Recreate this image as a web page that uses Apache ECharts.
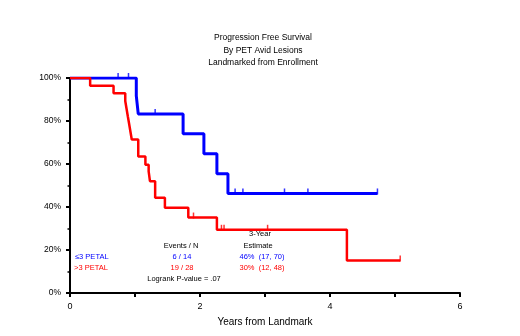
<!DOCTYPE html>
<html><head><meta charset="utf-8">
<script src="https://cdn.jsdelivr.net/npm/echarts@6/dist/echarts.min.js"></script>
<style>html,body{margin:0;padding:0;background:#fff}#c{width:520px;height:336px}</style>
</head><body><div id="c"></div>
<script>
var titleLines = ["Progression Free Survival", "By PET Avid Lesions", "Landmarked from Enrollment"];
var xAxisName = "Years from Landmark";
var groupNames = ["\u22643 PETAL", ">3 PETAL"];
var eventsN = ["6 / 14", "19 / 28"];
var estimates = ["46%  (17, 70)", "30%  (12, 48)"];
var logrank = "Logrank P-value = .07";

// Blue group: step times and survival (%)
var blueTimes = [0, 1.02, 1.05, 1.74, 2.06, 2.26, 2.43, 4.73];
var blueSurv  = [100, 91.7, 83.3, 74.1, 64.8, 55.5, 46.3, 46.3];
var blueCensT = [0.74, 0.90, 1.31, 2.54, 2.66, 3.30, 3.66, 4.73];
var blueCensS = [100, 100, 83.3, 46.3, 46.3, 46.3, 46.3, 46.3];

// Red group
var redTimes = [0, 0.31, 0.67, 0.85, 0.87, 0.89, 0.91, 0.93, 0.95, 1.05, 1.16, 1.21, 1.23, 1.31, 1.46, 1.82, 2.26, 4.26, 5.08];
var redSurv  = [100, 96.4, 92.9, 89.3, 85.7, 82.1, 78.6, 75.0, 71.4, 63.5, 59.7, 56.6, 52.0, 44.3, 39.7, 35.1, 29.4, 15.1, 15.1];
var redCensT = [1.90, 2.33, 2.37, 3.04, 5.08];
var redCensS = [35.1, 29.4, 29.4, 29.4, 15.1];

var BLUE = '#0000ff', RED = '#ff0000';
function pairs(a, b) { return a.map(function (v, i) { return [v, b[i]]; }); }

var chart = echarts.init(document.getElementById('c'), null, {renderer: 'canvas'});
var font = 'Liberation Sans, Arial, sans-serif';
var tfs = 7.5;
var graphics = [];
titleLines.forEach(function (t, i) {
  graphics.push({type: 'text', x: 263, y: 38 + i * 12.5, style: {text: t, fill: '#000', font: '8.5px ' + font, textAlign: 'center', textVerticalAlign: 'middle'}});
});
function txt(t, x, y, col, align) {
  graphics.push({type: 'text', x: x, y: y, style: {text: t, fill: col, font: tfs + 'px ' + font, textAlign: align || 'center', textVerticalAlign: 'middle'}});
}
txt('3-Year', 260, 234, '#000');
txt('Events / N', 181, 246, '#000');
txt('Estimate', 258, 246, '#000');
txt(groupNames[0], 75, 257, BLUE, 'left');
txt(groupNames[1], 74, 268, RED, 'left');
txt(eventsN[0], 182, 257, BLUE);
txt(eventsN[1], 182, 268, RED);
txt(estimates[0], 262, 257, BLUE);
txt(estimates[1], 262, 268, RED);
txt(logrank, 184, 279, '#000');

chart.setOption({
  animation: false,
  backgroundColor: '#fff',
  grid: {left: 70, right: 60, top: 78, bottom: 43, containLabel: false},
  xAxis: {
    type: 'value', min: 0, max: 6, interval: 1,
    name: xAxisName, nameLocation: 'middle', nameGap: 24,
    nameTextStyle: {fontSize: 10, color: '#000', fontFamily: font},
    axisLine: {lineStyle: {color: '#000', width: 2}},
    axisTick: {show: true, length: 4, lineStyle: {color: '#000', width: 2}},
    axisLabel: {fontSize: 9, color: '#000', fontFamily: font, margin: 9,
      formatter: function (v) { return v % 2 === 0 ? String(v) : ''; }},
    splitLine: {show: false}
  },
  yAxis: {
    type: 'value', min: 0, max: 100, interval: 20,
    axisLine: {show: true, lineStyle: {color: '#000', width: 2}},
    axisTick: {show: true, length: 4, lineStyle: {color: '#000', width: 2}},
    minorTick: {show: true, splitNumber: 2, length: 2.5, lineStyle: {color: '#000', width: 1.5}},
    axisLabel: {fontSize: 8.5, color: '#000', fontFamily: font, margin: 9,
      formatter: function (v) { return v + '%'; }},
    splitLine: {show: false}
  },
  graphic: graphics,
  series: [
    {type: 'line', step: 'end', data: pairs(blueTimes, blueSurv), showSymbol: false,
      lineStyle: {color: BLUE, width: 3}, z: 2},
    {type: 'scatter', data: pairs(blueCensT, blueCensS), symbol: 'rect', symbolSize: [1.5, 6], symbolOffset: [0, -2],
      itemStyle: {color: BLUE}, z: 2},
    {type: 'line', step: 'end', data: pairs(redTimes, redSurv), showSymbol: false,
      lineStyle: {color: RED, width: 2.5}, z: 3},
    {type: 'scatter', data: pairs(redCensT, redCensS), symbol: 'rect', symbolSize: [1.5, 6], symbolOffset: [0, -2],
      itemStyle: {color: RED}, z: 3}
  ]
});
</script></body></html>
